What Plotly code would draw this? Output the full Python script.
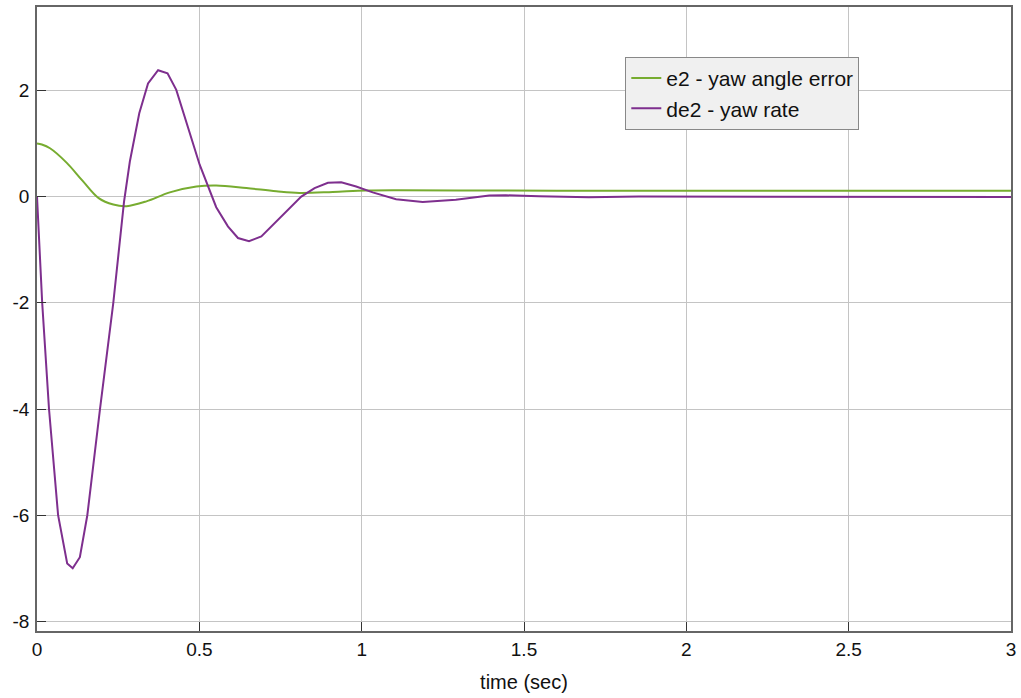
import plotly.graph_objects as go

# e2 - yaw angle error
t_e2 = [0, 0.015, 0.04, 0.091, 0.14, 0.19, 0.235, 0.276, 0.337, 0.409, 0.491, 0.552, 0.645,
        0.737, 0.808, 0.911, 1.013, 1.116, 1.3, 1.6, 2.0, 2.5, 3.0]
v_e2 = [1.0, 0.98, 0.91, 0.64, 0.3, -0.03, -0.15, -0.18, -0.09, 0.08, 0.19, 0.21, 0.16,
        0.1, 0.068, 0.087, 0.115, 0.12, 0.115, 0.112, 0.11, 0.11, 0.11]

# de2 - yaw rate
t_de2 = [0, 0.016, 0.037, 0.065, 0.093, 0.11, 0.132, 0.148, 0.155, 0.194, 0.235, 0.268,
         0.286, 0.315, 0.342, 0.373, 0.402, 0.429, 0.465, 0.501, 0.552, 0.588, 0.619,
         0.653, 0.691, 0.732, 0.773, 0.814, 0.855, 0.896, 0.937, 0.983, 1.034, 1.106,
         1.188, 1.29, 1.393, 1.444, 1.546, 1.70, 1.854, 2.0, 2.5, 3.0]
v_de2 = [0, -2, -4, -6, -6.91, -7.0, -6.79, -6.29, -6.0, -4, -2, -0.1,
         0.66, 1.57, 2.13, 2.38, 2.32, 2.01, 1.3, 0.6, -0.2, -0.56, -0.78,
         -0.84, -0.75, -0.5, -0.24, 0.0, 0.16, 0.26, 0.27, 0.19, 0.08, -0.05,
         -0.1, -0.06, 0.02, 0.025, 0.005, -0.013, 0, 0, -0.01, -0.01]

x_ticks = [0, 0.5, 1, 1.5, 2, 2.5, 3]
x_tick_labels = ["0", "0.5", "1", "1.5", "2", "2.5", "3"]
y_ticks = [-8, -6, -4, -2, 0, 2]
y_tick_labels = ["-8", "-6", "-4", "-2", "0", "2"]

FONT = "Liberation Sans, Arial"

fig = go.Figure()
fig.add_trace(go.Scatter(x=t_e2, y=v_e2, mode="lines", name="e2 - yaw angle error",
                         line=dict(color="#77AC30", width=2, shape="spline", smoothing=1.0)))
fig.add_trace(go.Scatter(x=t_de2, y=v_de2, mode="lines", name="de2 - yaw rate",
                         line=dict(color="#7E2F8E", width=2)))

axis_common = dict(showgrid=True, gridcolor="#c4c4c4", gridwidth=1,
                   showline=True, linecolor="#666666", linewidth=1.5, mirror=True,
                   ticks="inside", ticklen=9, tickcolor="#333333", zeroline=False,
                   tickfont=dict(family=FONT, size=19, color="#111"))

fig.update_xaxes(range=[0, 3], tickvals=x_ticks, ticktext=x_tick_labels,
                 title=dict(text="time (sec)", font=dict(family=FONT, size=20, color="#111"),
                            standoff=16),
                 **axis_common)
fig.update_yaxes(range=[-8.18, 3.57], tickvals=y_ticks, ticktext=y_tick_labels,
                 ticklabelstandoff=2, **axis_common)

fig.update_layout(
    width=1021, height=698,
    margin=dict(l=37, r=8, t=5, b=67),
    plot_bgcolor="white", paper_bgcolor="white",
    showlegend=True,
    legend=dict(x=0.604, y=0.92, xanchor="left", yanchor="top",
                bgcolor="#f0f0f0", bordercolor="#888888", borderwidth=1,
                font=dict(family=FONT, size=21, color="#111"),
                itemwidth=30, tracegroupgap=0),
)

fig.write_html("out.html")
